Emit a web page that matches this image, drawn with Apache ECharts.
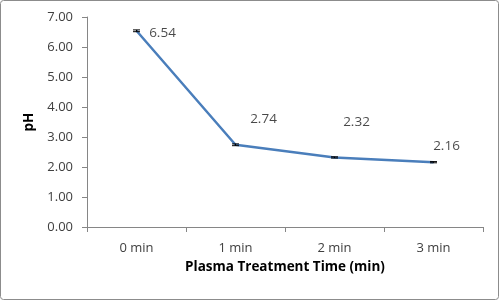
<!DOCTYPE html>
<html><head><meta charset="utf-8">
<script src="https://cdn.jsdelivr.net/npm/echarts@6/dist/echarts.min.js"></script>
<style>html,body{margin:0;padding:0;background:#fff}#c{width:500px;height:301px}</style>
</head><body><div id="c"></div>
<script>
var categories = ['0 min', '1 min', '2 min', '3 min'];
var phValues = [6.54, 2.74, 2.32, 2.16];
var phErrors = [0.03, 0.03, 0.02, 0.02];
var yTicks = [0, 1, 2, 3, 4, 5, 6, 7];

var labelOffsets = [[26, 2], [28, -26], [22, -35], [13, -16]];

var chart = echarts.init(document.getElementById('c'));
var font = 'Open Sans, Liberation Sans, sans-serif';
chart.setOption({
  animation: false,
  graphic: [{type: 'rect', shape: {x: 0.5, y: 0.5, width: 498, height: 299, r: 3}, style: {fill: 'none', stroke: '#8c8c8c', lineWidth: 1}, z: 100}],
  grid: {left: 87, right: 17, top: 17, bottom: 74},
  xAxis: {
    type: 'category', data: categories, boundaryGap: true,
    name: 'Plasma Treatment Time (min)', nameLocation: 'middle', nameGap: 28,
    nameTextStyle: {fontFamily: font, fontWeight: 'bold', fontSize: 13.5, color: '#000'},
    axisLine: {lineStyle: {color: '#868686'}},
    axisTick: {show: true, length: 5, inside: false, alignWithLabel: false, lineStyle: {color: '#868686'}},
    axisLabel: {fontFamily: font, fontSize: 13, color: '#404040', margin: 15}
  },
  yAxis: {
    type: 'value', min: yTicks[0], max: yTicks[yTicks.length - 1], interval: 1,
    name: 'pH', nameLocation: 'middle', nameGap: 48, nameRotate: 90,
    nameTextStyle: {fontFamily: font, fontWeight: 'bold', fontSize: 13.5, color: '#000'},
    axisLine: {show: true, lineStyle: {color: '#868686'}},
    axisTick: {show: true, length: 5, lineStyle: {color: '#868686'}},
    splitLine: {show: false},
    axisLabel: {fontFamily: font, fontSize: 13, color: '#404040', margin: 14, formatter: function (v) { return v.toFixed(2); }}
  },
  series: [{
    type: 'line', data: phValues,
    symbol: 'none',
    lineStyle: {color: '#4a7ebb', width: 2.5},
    z: 3
  }, {
    type: 'scatter',
    data: phValues.map(function (v, i) {
      return {value: [i, v], label: {offset: labelOffsets[i]}};
    }),
    symbol: 'circle', symbolSize: 2, itemStyle: {color: 'rgba(0,0,0,0)'},
    label: {show: true, position: 'inside', fontFamily: font, fontSize: 13.5, color: '#1a1a1a', formatter: function (p) { return p.value[1].toFixed(2); }},
    z: 5
  }, {
    type: 'custom',
    data: phValues.map(function (v, i) { return [i, v - phErrors[i], v + phErrors[i]]; }),
    renderItem: function (params, api) {
      var lo = api.coord([api.value(0), api.value(1)]);
      var hi = api.coord([api.value(0), api.value(2)]);
      var w = 3.5;
      var st = {stroke: '#000', lineWidth: 1};
      return {type: 'group', children: [
        {type: 'line', shape: {x1: lo[0], y1: lo[1], x2: hi[0], y2: hi[1]}, style: st},
        {type: 'line', shape: {x1: lo[0] - w, y1: lo[1], x2: lo[0] + w, y2: lo[1]}, style: st},
        {type: 'line', shape: {x1: hi[0] - w, y1: hi[1], x2: hi[0] + w, y2: hi[1]}, style: st}
      ]};
    },
    z: 4
  }]
});
</script></body></html>
